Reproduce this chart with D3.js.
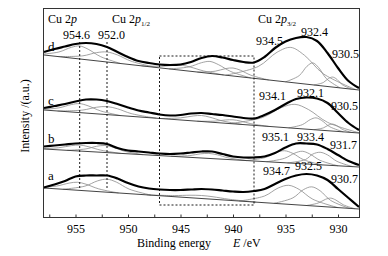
<!DOCTYPE html>
<html><head><meta charset="utf-8">
<script src="https://cdn.jsdelivr.net/npm/d3@7"></script>
<style>
html,body{margin:0;padding:0;background:#fff;}
svg{display:block;}
text{font-family:"Liberation Serif","Times New Roman","DejaVu Serif",serif;}
</style>
</head><body>
<svg id="chart" width="388" height="256"></svg>
<script>
// ---------------- DATA (binding energy in eV, intensity in a.u.) ----------------
const xTicks = [955, 950, 945, 940, 935, 930];
const xMinorTicks = [957.5, 952.5, 947.5, 942.5, 937.5, 932.5];
const seriesNames = ["d", "c", "b", "a"];

// envelope energies
const energies = [958,957,956,955,954,953,952,951,950,949,948,947,946,945,944,943,942,941,940,939,938,937,936,935,934,933,932,931,930,929,928];

const envD = [165,168,170.5,173,174,173,170,165,160,156,154,152.5,152,152.5,155,159,161,159.5,157,155,154.5,160,169,175.5,179,180,176,164,149,136,129];
const envC = [109,111,113,115.5,117.5,117.5,116,113,109.5,106.5,104.5,102.5,101.5,102,103.5,104,103,102,100.5,99,98.5,102,107,113,118,119.5,118.5,114,104,94,87];
const envB = [70.5,71.5,72.5,73.5,74,74,73,69,66.5,65.5,64.5,63.5,63,63.5,64.5,65.5,65.5,63,60.5,59.5,59.5,60.5,64,69.5,73.5,73.5,72.5,68,62,56,52];
const envA = [29.5,32.5,36,40.5,41.5,41.5,41.5,38.5,34,30.5,28.5,27.5,27,27,27.5,28,27.5,26.5,25.5,25,26,28,33,38,41.5,43,41.5,37,28,19,10];

// linear backgrounds [energy, intensity]
const bgD = [[958, 162], [928, 127]];
const bgC = [[958, 107], [928, 84]];
const bgB = [[958, 68], [928, 50]];
const bgA = [[958, 29], [928, 8]];

// fitted components: [energy, height above background]
const compD = [
  [[958.5,0],[956.6,4.6],[955.4,10.7],[954.6,13],[953.8,10.7],[952.6,4.6],[950.7,0]],
  [[956.7,0],[954.3,3.5],[953.0,8.2],[952.0,10],[951.0,8.2],[949.7,3.5],[947.3,0]],
  [[948.7,0],[946.8,1.8],[945.6,4.1],[944.8,5],[944.0,4.1],[942.8,1.8],[940.9,0]],
  [[946.1,0],[944.2,4.2],[943.0,9.8],[942.2,12],[941.4,9.8],[940.2,4.2],[938.3,0]],
  [[943.4,0],[941.7,2.8],[940.7,6.6],[940.0,8],[939.3,6.6],[938.3,2.8],[936.6,0]],
  [[940.7,0],[937.6,12.3],[935.8,28.7],[934.5,35],[933.2,28.7],[931.4,12.3],[928.3,0]],
  [[935.0,0],[933.7,7.7],[932.95,18],[932.4,22],[931.85,18],[931.1,7.7],[929.8,0]],
  [[932.3,0],[931.4,3.5],[930.9,8.2],[930.5,10],[930.1,8.2],[929.6,3.5],[928.7,0]]
];
const compC = [
  [[958.5,0],[956.6,3.2],[955.4,7.4],[954.6,9],[953.8,7.4],[952.6,3.2],[950.7,0]],
  [[956.7,0],[954.3,2.8],[953.0,6.6],[952.0,8],[951.0,6.6],[949.7,2.8],[947.3,0]],
  [[946.9,0],[945.0,2.1],[943.8,4.9],[943.0,6],[942.2,4.9],[941.0,2.1],[939.1,0]],
  [[943.4,0],[941.7,1.4],[940.7,3.3],[940.0,4],[939.3,3.3],[938.3,1.4],[936.6,0]],
  [[940.3,0],[937.2,8.4],[935.4,19.7],[934.1,24],[932.8,19.7],[931.0,8.4],[927.9,0]],
  [[934.7,0],[933.4,4.2],[932.65,9.8],[932.1,12],[931.55,9.8],[930.8,4.2],[929.5,0]],
  [[932.3,0],[931.4,2.5],[930.9,5.7],[930.5,7],[930.1,5.7],[929.6,2.5],[928.7,0]]
];
const compB = [
  [[958.5,0],[956.6,2.1],[955.4,4.9],[954.6,6],[953.8,4.9],[952.6,2.1],[950.7,0]],
  [[955.8,0],[954.0,2.5],[953.0,5.7],[952.2,7],[951.4,5.7],[950.4,2.5],[948.6,0]],
  [[945.9,0],[944.1,1.8],[943.1,4.1],[942.3,5],[941.5,4.1],[940.5,1.8],[938.7,0]],
  [[938.7,0],[936.9,4.2],[935.9,9.8],[935.1,12],[934.3,9.8],[933.3,4.2],[931.5,0]],
  [[936.8,0],[935.1,4.4],[934.1,10.3],[933.4,12.5],[932.7,10.3],[931.7,4.4],[930.0,0]],
  [[934.8,0],[933.1,4.4],[932.4,10.3],[931.7,12.5],[931.0,10.3],[930.1,4.4],[928.6,0]]
];
const compA = [
  [[958.7,0],[956.8,2.8],[955.6,6.6],[954.8,8],[954.0,6.6],[952.8,2.8],[950.9,0]],
  [[956.2,0],[954.1,4.6],[952.9,10.7],[952.0,13],[951.1,10.7],[949.9,4.6],[947.8,0]],
  [[948.2,0],[945.6,1.1],[944.1,2.5],[943.0,3],[941.9,2.5],[940.4,1.1],[937.8,0]],
  [[939.4,0],[937.0,6.7],[935.7,15.6],[934.7,19],[933.7,15.6],[932.4,6.7],[930.0,0]],
  [[936.1,0],[934.3,6.7],[933.3,15.6],[932.5,19],[931.7,15.6],[930.7,6.7],[928.9,0]],
  [[933.0,0],[931.9,3.2],[931.2,7.4],[930.7,9],[930.2,7.4],[929.5,3.2],[928.4,0]]
];

// labelled peak positions (eV)
const peaksD = ["954.6", "952.0", "934.5", "932.4", "930.5"];
const peaksC = ["934.1", "932.1", "930.5"];
const peaksB = ["935.1", "933.4", "931.7"];
const peaksA = ["934.7", "932.5", "930.7"];
const refLines = [954.6, 952.0];
const boxRange = [947, 938];

// ---------------- DRAWING ----------------
const FONT = "Liberation Serif, Times New Roman, DejaVu Serif, serif";
const svg = d3.select("#chart");
const L = 43.5, R = 359.5, T = 8.5, B = 217.5;
const x = d3.scaleLinear().domain([958, 928]).range([44, 359]);
const y = d3.scaleLinear().domain([0, 210]).range([217, 7]);

svg.append("defs").append("clipPath").attr("id", "clip")
  .append("rect").attr("x", L).attr("y", T).attr("width", R - L).attr("height", B - T);

const plot = svg.append("g").attr("clip-path", "url(#clip)");

const series = [
  {env: envD, bg: bgD, comps: compD},
  {env: envC, bg: bgC, comps: compC},
  {env: envB, bg: bgB, comps: compB},
  {env: envA, bg: bgA, comps: compA}
];

series.forEach(s => {
  const bgScale = d3.scaleLinear().domain([s.bg[0][0], s.bg[1][0]]).range([s.bg[0][1], s.bg[1][1]]);
  const compLine = d3.line()
    .x(d => x(d[0])).y(d => y(bgScale(d[0]) + d[1]))
    .curve(d3.curveCatmullRom.alpha(0.5));
  s.comps.forEach(c => {
    plot.append("path").attr("d", compLine(c))
      .attr("fill", "none").attr("stroke", "#8c8c8c").attr("stroke-width", 0.8);
  });
  plot.append("path")
    .attr("d", d3.line().x(d => x(d[0])).y(d => y(d[1]))(s.bg))
    .attr("fill", "none").attr("stroke", "#444").attr("stroke-width", 1);
  const envLine = d3.line().x((d, i) => x(energies[i])).y(d => y(d)).curve(d3.curveCatmullRom.alpha(0.5));
  plot.append("path").attr("d", envLine(s.env))
    .attr("fill", "none").attr("stroke", "#000").attr("stroke-width", 2.2)
    .attr("stroke-linejoin", "round");
});

// dotted reference lines and box
refLines.forEach(e => {
  svg.append("line").attr("x1", x(e)).attr("x2", x(e)).attr("y1", 42).attr("y2", 188)
    .attr("stroke", "#000").attr("stroke-width", 0.9).attr("stroke-dasharray", "2,2");
});
svg.append("rect")
  .attr("x", x(boxRange[0])).attr("y", 56)
  .attr("width", x(boxRange[1]) - x(boxRange[0])).attr("height", 149)
  .attr("fill", "none").attr("stroke", "#000").attr("stroke-width", 0.9).attr("stroke-dasharray", "2,2");

// frame
svg.append("rect").attr("x", L).attr("y", T).attr("width", R - L).attr("height", B - T)
  .attr("fill", "none").attr("stroke", "#333").attr("stroke-width", 1);

// axes
const ax = svg.append("g").attr("transform", `translate(0,${B})`)
  .call(d3.axisBottom(x).tickValues(xTicks).tickSize(-3).tickPadding(6.5).tickFormat(d3.format("d")));
ax.attr("font-family", FONT);
ax.select(".domain").remove();
ax.selectAll("text").attr("font-size", 12).attr("font-family", FONT).attr("fill", "#000");
ax.selectAll("line").attr("stroke", "#333");
const axm = svg.append("g").attr("transform", `translate(0,${B})`)
  .call(d3.axisBottom(x).tickValues(xMinorTicks).tickSize(-3).tickFormat(""));
axm.select(".domain").remove();
axm.selectAll("line").attr("stroke", "#333");

// text helpers
function newText(xp, yp, size) {
  return svg.append("text").attr("x", xp).attr("y", yp)
    .attr("font-family", FONT).attr("font-size", size || 12).attr("fill", "#000");
}

// headers
const h1 = newText(48, 23, 12);
h1.append("tspan").text("Cu 2");
h1.append("tspan").attr("font-style", "italic").text("p");
const h2 = newText(112, 23, 12);
h2.append("tspan").text("Cu 2");
h2.append("tspan").attr("font-style", "italic").text("p");
h2.append("tspan").attr("font-size", 7).attr("dy", 3).text("1/2");
const h3 = newText(258, 23, 12);
h3.append("tspan").text("Cu 2");
h3.append("tspan").attr("font-style", "italic").text("p");
h3.append("tspan").attr("font-size", 7).attr("dy", 3).text("3/2");

// series letters
const letterPos = [[48, 51], [48, 105], [48, 143], [48, 180]];
seriesNames.forEach((n, i) => newText(letterPos[i][0], letterPos[i][1], 13).text(n));

// peak labels
const peakPos = {
  d: [[63, 39], [98, 39], [256, 45], [301, 36], [332, 58]],
  c: [[259, 100], [297, 97], [331, 110]],
  b: [[262, 141], [297, 141], [330, 149]],
  a: [[263, 175], [295, 170], [331, 183]]
};
[["d", peaksD], ["c", peaksC], ["b", peaksB], ["a", peaksA]].forEach(([k, arr]) => {
  arr.forEach((p, i) => newText(peakPos[k][i][0], peakPos[k][i][1], 12).text(p));
});

// axis titles
newText(137, 247, 12).text("Binding energy");
const et = newText(233, 247, 12);
et.append("tspan").attr("font-style", "italic").text("E");
et.append("tspan").text(" /eV");
svg.append("text").attr("transform", "translate(29,116) rotate(-90)")
  .attr("font-family", FONT).attr("text-anchor", "middle").attr("font-size", 12).text("Intensity /(a.u.)");
</script>
</body></html>
